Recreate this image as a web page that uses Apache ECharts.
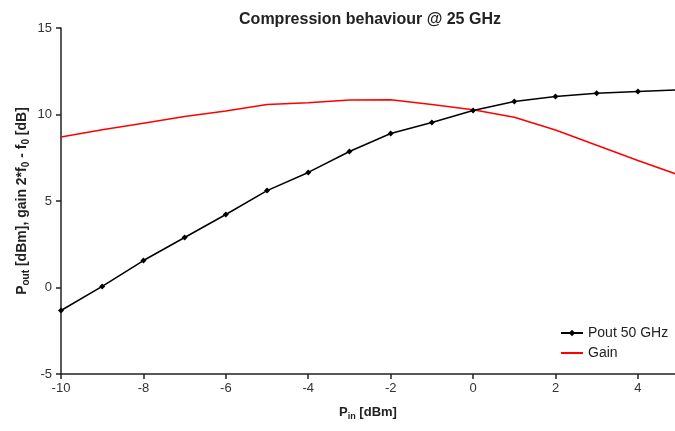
<!DOCTYPE html>
<html>
<head>
<meta charset="utf-8">
<script src="https://cdn.jsdelivr.net/npm/echarts@6/dist/echarts.min.js"></script>
<style>
  html, body { margin: 0; padding: 0; background: #fff; }
  #chart { width: 675px; height: 431px; }
</style>
</head>
<body>
<div id="chart"></div>
<script>
// input power steps [dBm]
const pinValues = [-10, -9, -8, -7, -6, -5, -4, -3, -2, -1, 0, 1, 2, 3, 4, 5]
// Pout at 50 GHz [dBm]
const poutValues = [-1.33, 0.06, 1.56, 2.89, 4.22, 5.6, 6.65, 7.86, 8.9, 9.54, 10.23, 10.75, 11.04, 11.23, 11.33, 11.42]
// gain [dB]
const gainValues = [8.7, 9.12, 9.5, 9.88, 10.2, 10.58, 10.68, 10.84, 10.85, 10.58, 10.27, 9.84, 9.1, 8.22, 7.34, 6.5]

const xTicks = { min: -10, max: 4.9, interval: 2 }
const yTicks = { min: -5, max: 15, interval: 5 }

const chart = echarts.init(document.getElementById('chart'))

const font = 'Liberation Sans, Arial, sans-serif'

const pairs = (ys) => pinValues.map((x, i) => [x, ys[i]])

const nameRich = (size) => ({
  n: { fontSize: size, fontWeight: 'bold', color: '#222', lineHeight: size + 4, fontFamily: font },
  s: { fontSize: size - 4, fontWeight: 'bold', color: '#222', lineHeight: size + 4, verticalAlign: 'bottom', padding: [5, 0, 0, 0], fontFamily: font },
})

chart.setOption({
  animation: false,
  textStyle: { fontFamily: font },
  title: {
    text: 'Compression behaviour @ 25 GHz',
    left: 365,
    textAlign: 'center',
    top: 7,
    textStyle: { fontSize: 16, fontWeight: 'bold', color: '#222', fontFamily: font },
  },
  grid: { left: 61, top: 28, right: 0, bottom: 57 },
  legend: {
    orient: 'vertical',
    left: 555,
    top: 321,
    itemWidth: 22,
    itemHeight: 8,
    itemGap: 6,
    textStyle: { fontSize: 14, color: '#222', fontFamily: font },
    data: [
      { name: 'Pout 50 GHz' },
      { name: 'Gain', itemStyle: { opacity: 0 } },
    ],
  },
  xAxis: {
    type: 'value',
    min: xTicks.min,
    max: xTicks.max,
    interval: xTicks.interval,
    name: '{n|P}{s|in}{n| [dBm]}',
    nameLocation: 'middle',
    nameGap: 30,
    nameTextStyle: { rich: nameRich(13) },
    axisLine: { onZero: false, lineStyle: { color: '#222', width: 1.5 } },
    axisTick: { show: true, inside: false, length: 5, lineStyle: { color: '#222', width: 1.5 } },
    axisLabel: { fontSize: 13, color: '#333', margin: 8, showMaxLabel: false },
    splitLine: { show: false },
  },
  yAxis: {
    type: 'value',
    min: yTicks.min,
    max: yTicks.max,
    interval: yTicks.interval,
    name: '{n|P}{s|out}{n| [dBm], gain 2*f}{s|0}{n| - f}{s|0}{n| [dB]}',
    nameLocation: 'middle',
    nameGap: 30,
    nameMoveOverlap: false,
    nameTextStyle: { rich: nameRich(14) },
    axisLine: { show: true, onZero: false, lineStyle: { color: '#222', width: 1.5 } },
    axisTick: { show: true, inside: false, length: 5, lineStyle: { color: '#222', width: 1.5 } },
    axisLabel: { fontSize: 13, color: '#333', margin: 9 },
    splitLine: { show: false },
  },
  series: [
    {
      name: 'Pout 50 GHz',
      type: 'line',
      data: pairs(poutValues),
      clip: true,
      smooth: false,
      symbol: 'diamond',
      symbolSize: 6,
      itemStyle: { color: '#000' },
      lineStyle: { color: '#000', width: 1.5 },
      z: 3,
    },
    {
      name: 'Gain',
      type: 'line',
      data: pairs(gainValues),
      clip: true,
      smooth: false,
      showSymbol: false,
      symbol: 'none',
      itemStyle: { color: '#ff0000' },
      lineStyle: { color: '#ff0000', width: 1.5 },
      z: 2,
    },
  ],
})

window.addEventListener('resize', function () {
  chart.resize()
})
</script>
</body>
</html>
